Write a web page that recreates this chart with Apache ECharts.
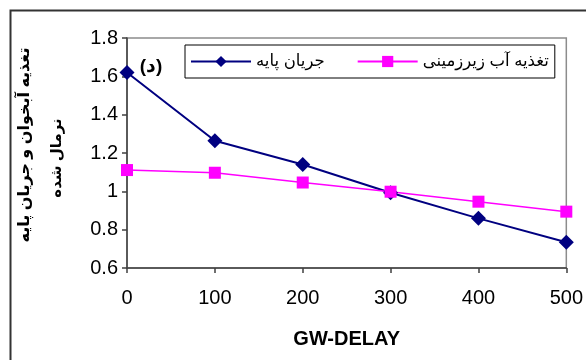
<!DOCTYPE html>
<html><head><meta charset="utf-8">
<script src="https://cdn.jsdelivr.net/npm/echarts@6/dist/echarts.min.js"></script>
<style>html,body{margin:0;padding:0;background:#fff}#c{width:586px;height:360px}</style>
</head><body><div id="c"></div>
<script>
var xValues = [0, 100, 200, 300, 400, 500];
var baseFlow = [1.62, 1.264, 1.14, 0.993, 0.859, 0.734];
var recharge = [1.111, 1.097, 1.046, 0.998, 0.946, 0.894];
var seriesNames = ['جریان پایه', 'تغذیه آب زیرزمینی'];
var yNameLines = ['تغذیه آبخوان و جریان پایه', 'نرمال شده'];
var xName = 'GW-DELAY';
var panelLabel = '(د)';
var FONT = 'Liberation Sans, Arial, DejaVu Sans, sans-serif';

var chart = echarts.init(document.getElementById('c'), null, {renderer: 'canvas'});
function pairs(vals){ return xValues.map(function(x,i){ return [x, vals[i]]; }); }
chart.setOption({
  animation: false,
  backgroundColor: '#fff',
  grid: {left: 127, right: 17, top: 38, bottom: 92, show: true, borderColor: '#8c8c8c', borderWidth: 1.5},
  legend: {
    left: 185, top: 45, width: 372,
    padding: [8, 6, 8, 5],
    borderColor: '#000', borderWidth: 1, borderRadius: 0,
    itemWidth: 60, itemHeight: 14, itemGap: 32,
    textStyle: {fontFamily: FONT, fontSize: 16.5, color: '#000'},
    data: seriesNames
  },
  xAxis: {
    type: 'value', min: 0, max: 500, interval: 100,
    name: xName, nameLocation: 'middle', nameGap: 61,
    nameTextStyle: {fontFamily: FONT, fontSize: 20, fontWeight: 'bold', color: '#000'},
    axisLine: {show: true, lineStyle: {color: '#404040', width: 1.5}},
    axisTick: {show: true, length: 5, lineStyle: {color: '#404040', width: 1.5}},
    axisLabel: {fontFamily: FONT, fontSize: 20, color: '#000', margin: 20},
    splitLine: {show: false}
  },
  yAxis: {
    type: 'value', min: 0.6, max: 1.8, interval: 0.2,
    axisLine: {show: true, lineStyle: {color: '#404040', width: 1.5}},
    axisTick: {show: true, length: 5, lineStyle: {color: '#404040', width: 1.5}},
    axisLabel: {fontFamily: FONT, fontSize: 20, color: '#000', margin: 9,
      formatter: function(v){ return String(parseFloat(v.toFixed(1))); }},
    splitLine: {show: false}
  },
  graphic: [
    {type: 'rect', left: 8, top: 8, shape: {width: 600, height: 400}, style: {fill: 'none', stroke: '#333', lineWidth: 2}, silent: true},
    {type: 'text', x: 25, y: 145, rotation: Math.PI/2, style: {text: yNameLines[0], font: 'bold 16px ' + FONT, fill: '#000', align: 'center', verticalAlign: 'middle'}},
    {type: 'text', x: 57, y: 158, rotation: Math.PI/2, style: {text: yNameLines[1], font: 'bold 15px ' + FONT, fill: '#000', align: 'center', verticalAlign: 'middle'}},
    {type: 'text', x: 151, y: 67, style: {text: panelLabel, font: 'bold 19px ' + FONT, fill: '#000', align: 'center', verticalAlign: 'middle'}}
  ],
  series: [
    {name: seriesNames[0], type: 'line', data: pairs(baseFlow), symbol: 'diamond', symbolSize: [15, 15],
      lineStyle: {color: '#000080', width: 2}, itemStyle: {color: '#000080'}},
    {name: seriesNames[1], type: 'line', data: pairs(recharge), symbol: 'rect', symbolSize: 12,
      lineStyle: {color: '#ff00ff', width: 1.5}, itemStyle: {color: '#ff00ff'}}
  ]
});
</script></body></html>
